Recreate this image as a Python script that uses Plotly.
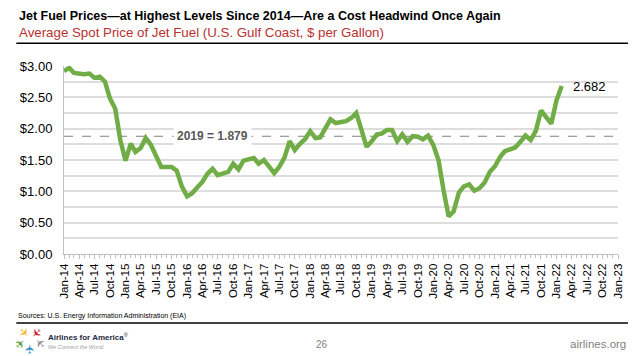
import plotly.graph_objects as go
import pandas as pd

# Monthly average spot price of jet fuel (U.S. Gulf Coast, $/gal), Jan-2014 .. Feb-2022
months = pd.date_range("2014-01-01", "2022-02-01", freq="MS")
prices = [
    # 2014
    2.92, 2.97, 2.89, 2.88, 2.87, 2.88, 2.81, 2.83, 2.75, 2.48, 2.32, 1.82,
    # 2015
    1.49, 1.76, 1.63, 1.69, 1.85, 1.74, 1.55, 1.39, 1.39, 1.39, 1.33, 1.08,
    # 2016
    0.92, 0.97, 1.06, 1.15, 1.28, 1.36, 1.26, 1.28, 1.31, 1.44, 1.35, 1.49,
    # 2017
    1.51, 1.53, 1.44, 1.50, 1.40, 1.29, 1.39, 1.54, 1.80, 1.66, 1.76, 1.83,
    # 2018
    1.96, 1.85, 1.86, 2.00, 2.15, 2.09, 2.10, 2.12, 2.17, 2.25, 1.98, 1.71,
    # 2019
    1.80, 1.91, 1.92, 1.98, 1.98, 1.80, 1.91, 1.79, 1.88, 1.87, 1.83, 1.89,
    # 2020
    1.74, 1.50, 1.03, 0.60, 0.68, 0.98, 1.08, 1.11, 1.01, 1.05, 1.14, 1.31,
    # 2021
    1.40, 1.55, 1.64, 1.67, 1.70, 1.79, 1.89, 1.82, 1.97, 2.29, 2.19, 2.08,
    # 2022
    2.45, 2.682,
]
avg_2019 = 1.879
last_label = "2.682"
y_tickvals = [0, 0.5, 1.0, 1.5, 2.0, 2.5, 3.0]
y_ticktext = ["$0.00", "$0.50", "$1.00", "$1.50", "$2.00", "$2.50", "$3.00"]

title = "Jet Fuel Prices\u2014at Highest Levels Since 2014\u2014Are a Cost Headwind Once Again"
subtitle = "Average Spot Price of Jet Fuel (U.S. Gulf Coast, $ per Gallon)"
source = "Sources: U.S. Energy Information Administration (EIA)"

GREEN = "#70AD47"
FONT = "Liberation Sans, Arial, sans-serif"

# the page body has an 8px margin: screen = figure + 8
OFF = 8
# plot area in screen pixels: left 60, right 618, top 66, bottom 254
L, R, T, B = 60 - OFF, 618 - OFF, 66 - OFF, 254 - OFF
W, H = R - L, B - T
def px(xs):
    return (xs - OFF - L) / W
def py(ys):
    return (B - (ys - OFF)) / H

fig = go.Figure()
fig.add_trace(go.Scatter(
    x=months, y=prices, mode="lines",
    line=dict(color=GREEN, width=4.5, shape="linear"),
    hoverinfo="skip", showlegend=False,
))

fig.update_layout(
    width=640, height=356,
    margin=dict(l=L, r=640 - R, t=T, b=356 - B),
    paper_bgcolor="white", plot_bgcolor="white",
    font=dict(family=FONT, color="#000000"),
    hovermode=False,
    xaxis=dict(
        type="date",
        range=["2014-01-01", "2023-01-01"],
        tick0="2014-01-01", dtick="M3",
        tickformat="%b-%y", tickangle=-90,
        tickfont=dict(size=11.5, color="#000000"),
        showgrid=False, zeroline=False,
        showline=True, linecolor="#BFBFBF", linewidth=1,
        ticks="outside", ticklen=4, tickcolor="#BFBFBF",
        minor=dict(dtick="M1", ticks="outside", ticklen=3, tickcolor="#BFBFBF"),
        fixedrange=True,
    ),
    yaxis=dict(
        range=[0, 3.0],
        tickvals=y_tickvals, ticktext=y_ticktext,
        tickfont=dict(size=13, color="#000000"),
        showgrid=True, gridcolor="#DDDDDD", gridwidth=1.5,
        minor=dict(dtick=0.25, showgrid=True, gridcolor="#DDDDDD", gridwidth=1.5),
        zeroline=False,
        showline=True, linecolor="#BFBFBF", linewidth=1,
        ticks="", ticklabelstandoff=8,
        fixedrange=True,
    ),
)

# 2019 average dashed reference line
fig.add_shape(type="line", xref="paper", yref="y", x0=0, x1=1, y0=avg_2019, y1=avg_2019,
              line=dict(color="#7F7F7F", width=1, dash="dash"), layer="below")
fig.add_annotation(xref="paper", yref="y", x=px(210), y=avg_2019,
                   text="<b>2019 = %.3f</b>" % avg_2019, showarrow=False,
                   font=dict(size=12, color="#595959"), bgcolor="white",
                   borderpad=3, xanchor="center", yanchor="middle")

# last value label
fig.add_annotation(x=months[-1], y=prices[-1], text=last_label, showarrow=False,
                   xanchor="left", yanchor="middle", xshift=9, yshift=-1,
                   font=dict(size=13, color="#000000"))

# titles
fig.add_annotation(xref="paper", yref="paper", x=px(13), y=py(16),
                   text="<b>" + title + "</b>", showarrow=False,
                   xanchor="left", yanchor="middle", font=dict(size=12.5, color="#000000"))
fig.add_annotation(xref="paper", yref="paper", x=px(13), y=py(32.5),
                   text=subtitle, showarrow=False,
                   xanchor="left", yanchor="middle", font=dict(size=13.3, color="#B8312F"))
fig.add_shape(type="line", xref="paper", yref="paper", x0=px(12), x1=px(628),
              y0=py(43.3), y1=py(43.3), line=dict(color="#000000", width=1.5))

# footer
fig.add_annotation(xref="paper", yref="paper", x=px(12), y=py(316),
                   text=source, showarrow=False, xanchor="left", yanchor="middle",
                   font=dict(size=7, color="#000000"))
fig.add_shape(type="line", xref="paper", yref="paper", x0=px(12), x1=px(628),
              y0=py(323), y1=py(323), line=dict(color="#000000", width=1.5))
fig.add_annotation(xref="paper", yref="paper", x=px(320), y=py(344),
                   text="26", showarrow=False, xanchor="center", yanchor="middle",
                   font=dict(size=10, color="#7F7F7F"))
fig.add_annotation(xref="paper", yref="paper", x=px(628), y=py(344),
                   text="airlines.org", showarrow=False, xanchor="right", yanchor="middle",
                   font=dict(size=11.5, color="#7F7F7F"))
fig.add_annotation(xref="paper", yref="paper", x=px(42), y=py(337),
                   text="<b>Airlines for America</b><sup>\u00ae</sup>", showarrow=False,
                   xanchor="left", yanchor="middle", font=dict(size=8, color="#1F2A44"))
fig.add_annotation(xref="paper", yref="paper", x=px(42), y=py(347),
                   text="<i>We Connect the World</i>", showarrow=False,
                   xanchor="left", yanchor="middle", font=dict(size=5.5, color="#A0A0A0"))
# logo pinwheel of planes
logo = [(20, 333, "#F2B51C", 45), (32, 333, "#C8232C", 135), (16, 344, "#5BA344", -45),
        (26, 349, "#2E8BC9", -90), (36, 343, "#8C8C8C", -135)]
for lx, ly, col, ang in logo:
    fig.add_annotation(xref="paper", yref="paper", x=px(lx), y=py(ly), text="\u2708",
                       showarrow=False, textangle=ang, xanchor="center", yanchor="middle",
                       font=dict(size=12, color=col, family="DejaVu Sans"))

fig.write_html("out.html")
